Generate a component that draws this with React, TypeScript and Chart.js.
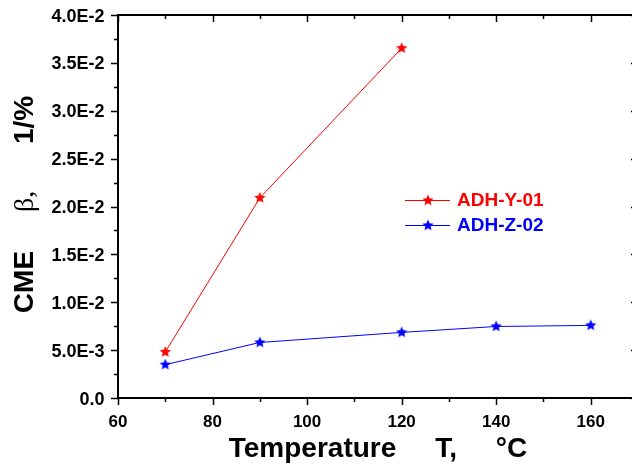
import React, { useEffect, useRef } from "react";
import { Chart, registerables } from "chart.js";

Chart.register(...registerables);

// ---- data ----
const xRed = [70, 90, 120];
const yRed = [0.0048, 0.0209, 0.03653];
const xBlue = [70, 90, 120, 140, 160];
const yBlue = [0.00348, 0.0058, 0.00685, 0.00747, 0.00758];
const seriesNames = ["ADH-Y-01", "ADH-Z-02"];
const seriesColors = ["#ff0000", "#0000ff"];

const xMajorTicks = [60, 80, 100, 120, 140, 160];
const xMinorTicks = [70, 90, 110, 130, 150, 170];
const yMajorTicks = [0, 0.005, 0.01, 0.015, 0.02, 0.025, 0.03, 0.035, 0.04];
const yMinorTicks = [0.0025, 0.0075, 0.0125, 0.0175, 0.0225, 0.0275, 0.0325, 0.0375];
const X_MIN = 60;
const X_MAX = 170;
const Y_MIN = 0;
const Y_MAX = 0.04;

const xTitle = "Temperature     T,     °C";
// y title pieces: [text, isSymbol]
const yTitleParts: [string, boolean][] = [
  ["CME     ", false],
  ["β,", true],
  ["      1/%", false],
];

const FONT = "'Liberation Sans', Arial, sans-serif";
const SERIF = "'Liberation Serif', 'DejaVu Serif', serif";

function fmtY(v: number): string {
  if (Math.abs(v) < 1e-12) return "0.0";
  const e = Math.floor(Math.log10(Math.abs(v)) + 1e-9);
  const m = v / Math.pow(10, e);
  return `${m.toFixed(1)}E${e}`;
}

function makeStar(color: string, r: number): HTMLCanvasElement {
  const s = Math.ceil(r * 2 + 2);
  const c = document.createElement("canvas");
  c.width = s;
  c.height = s;
  const g = c.getContext("2d")!;
  g.fillStyle = color;
  g.beginPath();
  for (let i = 0; i < 10; i++) {
    const a = -Math.PI / 2 + (i * Math.PI) / 5;
    const rr = i % 2 ? r * 0.45 : r;
    const px = s / 2 + rr * Math.cos(a);
    const py = s / 2 + rr * Math.sin(a);
    if (i === 0) g.moveTo(px, py);
    else g.lineTo(px, py);
  }
  g.closePath();
  g.fill();
  return c;
}

const axesPlugin = {
  id: "axesPlugin",
  afterDatasetsDraw(chart: any) {
    const { ctx, chartArea, scales } = chart;
    const { left, right, top, bottom } = chartArea;
    const xs = scales.x;
    const ys = scales.y;
    ctx.save();
    ctx.strokeStyle = "#000";
    ctx.lineWidth = 2;
    ctx.strokeRect(left, top, right - left, bottom - top);
    ctx.lineWidth = 1.5;
    const seg = (x1: number, y1: number, x2: number, y2: number) => {
      ctx.beginPath();
      ctx.moveTo(x1, y1);
      ctx.lineTo(x2, y2);
      ctx.stroke();
    };
    const xt = (vals: number[], len: number) => {
      vals.forEach((v) => {
        const p = Math.round(xs.getPixelForValue(v)) + 0.5;
        seg(p, bottom, p, bottom + len);
        seg(p, top, p, top + len);
      });
    };
    const yt = (vals: number[], len: number) => {
      vals.forEach((v) => {
        const p = Math.round(ys.getPixelForValue(v)) + 0.5;
        seg(left, p, left - len, p);
        seg(right, p, right - len, p);
      });
    };
    xt(xMajorTicks, 7);
    xt(xMinorTicks, 4);
    yt(yMajorTicks, 7);
    yt(yMinorTicks, 4);

    // tick labels
    ctx.fillStyle = "#000";
    ctx.font = `bold 17px ${FONT}`;
    ctx.textAlign = "center";
    ctx.textBaseline = "alphabetic";
    xMajorTicks.forEach((v) => {
      ctx.fillText(String(v), xs.getPixelForValue(v), bottom + 29);
    });
    ctx.font = `bold 18px ${FONT}`;
    ctx.textAlign = "right";
    yMajorTicks.forEach((v) => {
      ctx.fillText(fmtY(v), left - 13.5, ys.getPixelForValue(v) + 6.5);
    });

    // axis titles
    ctx.font = `bold 28px ${FONT}`;
    ctx.textAlign = "center";
    ctx.fillText(xTitle, (left + right) / 2, bottom + 59);

    ctx.save();
    ctx.translate(33, (top + bottom) / 2 - 2);
    ctx.rotate(-Math.PI / 2);
    ctx.textAlign = "left";
    const fontFor = (sym: boolean) => (sym ? `28px ${SERIF}` : `bold 28px ${FONT}`);
    let total = 0;
    yTitleParts.forEach(([t, sym]) => {
      ctx.font = fontFor(sym);
      total += ctx.measureText(t).width;
    });
    let cx = -total / 2;
    yTitleParts.forEach(([t, sym]) => {
      ctx.font = fontFor(sym);
      ctx.fillText(t, cx, 0);
      cx += ctx.measureText(t).width;
    });
    ctx.restore();
    ctx.restore();
  },
};

const legendPlugin = {
  id: "customLegend",
  afterDraw(chart: any, _args: any, opts: any) {
    const { ctx } = chart;
    ctx.save();
    chart.data.datasets.forEach((ds: any, i: number) => {
      const y = opts.y + i * opts.rowGap;
      ctx.strokeStyle = ds.borderColor;
      ctx.lineWidth = 1;
      ctx.beginPath();
      ctx.moveTo(opts.x, y + 0.5);
      ctx.lineTo(opts.x + opts.lineLen, y + 0.5);
      ctx.stroke();
      const img = ds.pointStyle as HTMLCanvasElement;
      ctx.drawImage(img, opts.x + opts.lineLen / 2 - img.width / 2 + 0.5, y - img.height / 2 + 0.5);
      ctx.fillStyle = ds.borderColor;
      ctx.font = `bold 19px ${FONT}`;
      ctx.textBaseline = "alphabetic";
      ctx.textAlign = "left";
      ctx.fillText(ds.label, opts.x + opts.lineLen + 7, y + 6);
    });
    ctx.restore();
  },
};

export default function App() {
  const ref = useRef<HTMLCanvasElement>(null);
  useEffect(() => {
    const canvas = ref.current!;
    const redStar = makeStar(seriesColors[0], 6);
    const blueStar = makeStar(seriesColors[1], 6);
    const chart = new Chart(canvas, {
      type: "line",
      data: {
        datasets: [
          {
            label: seriesNames[0],
            data: xRed.map((x, i) => ({ x, y: yRed[i] })),
            borderColor: seriesColors[0],
            backgroundColor: seriesColors[0],
            borderWidth: 1,
            pointStyle: redStar as any,
            pointRadius: 5,
            tension: 0,
          },
          {
            label: seriesNames[1],
            data: xBlue.map((x, i) => ({ x, y: yBlue[i] })),
            borderColor: seriesColors[1],
            backgroundColor: seriesColors[1],
            borderWidth: 1,
            pointStyle: blueStar as any,
            pointRadius: 5,
            tension: 0,
          },
        ],
      },
      options: {
        responsive: false,
        animation: false,
        devicePixelRatio: 1,
        layout: { padding: { top: 15, right: 12, left: 118, bottom: 69 } },
        plugins: {
          legend: { display: false },
          tooltip: { enabled: false },
          customLegend: { x: 405, y: 200, rowGap: 25, lineLen: 45 },
        } as any,
        scales: {
          x: { type: "linear", min: X_MIN, max: X_MAX, display: false },
          y: { type: "linear", min: Y_MIN, max: Y_MAX, display: false },
        },
      },
      plugins: [axesPlugin, legendPlugin],
    });
    return () => chart.destroy();
  }, []);

  return (
    <div
      style={{
        position: "fixed",
        left: 0,
        top: 0,
        width: 632,
        height: 467,
        overflow: "hidden",
        background: "#fff",
      }}
    >
      <canvas ref={ref} width={650} height={467} style={{ display: "block", width: 650, height: 467 }} />
    </div>
  );
}
